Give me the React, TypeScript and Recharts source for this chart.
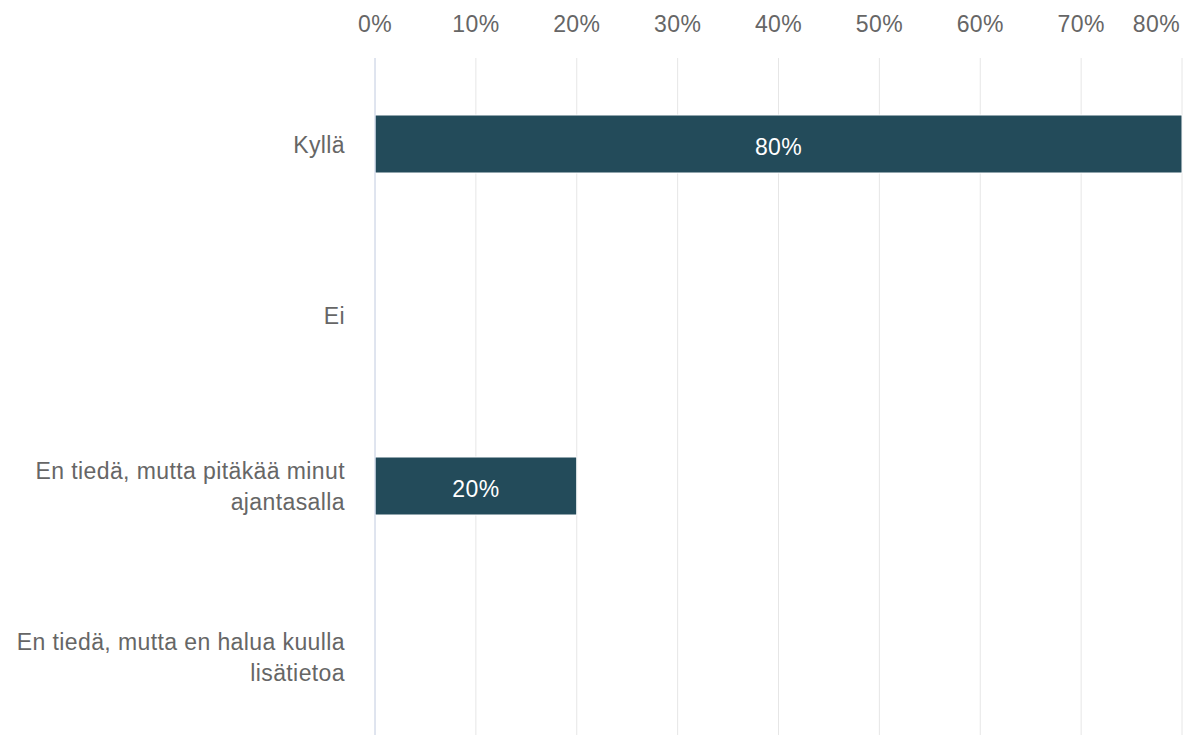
import React from 'react';
import { BarChart, Bar, XAxis, YAxis, CartesianGrid, LabelList } from 'recharts';

const categories = [
  'Kyllä',
  'Ei',
  'En tiedä, mutta pitäkää minut ajantasalla',
  'En tiedä, mutta en halua kuulla lisätietoa',
];
const shares = [80, 0, 20, 0];
const xTicks = [0, 10, 20, 30, 40, 50, 60, 70, 80];

const data = categories.map((category, i) => ({ category, share: shares[i] }));

const FONT = '"Liberation Sans", Arial, Helvetica, sans-serif';
const TEXT_COLOR = '#666666';
const LABEL_FONT_SIZE = 23;
const LETTER_SPACING = 0.4;
const LABEL_MAX_WIDTH = 345;
const LINE_HEIGHT = 31;

let measureCtx: CanvasRenderingContext2D | null = null;
function measure(s: string): number {
  if (!measureCtx) {
    const c = document.createElement('canvas');
    measureCtx = c.getContext('2d');
  }
  if (!measureCtx) return s.length * LABEL_FONT_SIZE * 0.5;
  measureCtx.font = `${LABEL_FONT_SIZE}px ${FONT}`;
  return measureCtx.measureText(s).width + s.length * LETTER_SPACING;
}

function wrap(label: string): string[] {
  const words = label.split(' ');
  const lines: string[] = [];
  let cur = '';
  words.forEach((w) => {
    const next = cur ? `${cur} ${w}` : w;
    if (cur && measure(next) > LABEL_MAX_WIDTH) {
      lines.push(cur);
      cur = w;
    } else {
      cur = next;
    }
  });
  if (cur) lines.push(cur);
  return lines;
}

const XTick = (props: any) => {
  const { x, y, payload, index } = props;
  const last = index === xTicks.length - 1;
  return (
    <text
      x={last ? x - 2 : x}
      y={y}
      textAnchor={last ? 'end' : 'middle'}
      fill={TEXT_COLOR}
      fontSize={LABEL_FONT_SIZE}
      letterSpacing={LETTER_SPACING}
      fontFamily={FONT}
    >
      {`${payload.value}%`}
    </text>
  );
};

const YTick = (props: any) => {
  const { x, y, payload } = props;
  const lines = wrap(String(payload.value));
  const firstBaseline = y + 9 - ((lines.length - 1) * LINE_HEIGHT) / 2;
  return (
    <text
      x={x}
      y={firstBaseline}
      textAnchor="end"
      fill={TEXT_COLOR}
      fontSize={LABEL_FONT_SIZE}
      letterSpacing={LETTER_SPACING}
      fontFamily={FONT}
    >
      {lines.map((l, i) => (
        <tspan key={i} x={x} dy={i === 0 ? 0 : LINE_HEIGHT}>
          {l}
        </tspan>
      ))}
    </text>
  );
};

export default function App() {
  return (
    <div
      style={{
        position: 'fixed',
        left: 0,
        top: 0,
        width: 1184,
        height: 735,
        overflow: 'hidden',
        background: '#ffffff',
      }}
    >
      <BarChart
        layout="vertical"
        width={1184}
        height={742}
        data={data}
        margin={{ top: 0, right: 2, left: 0, bottom: 0 }}
      >
        <CartesianGrid horizontal={false} stroke="#e6e6e6" />
        <XAxis
          type="number"
          orientation="top"
          domain={[0, 80]}
          ticks={xTicks}
          interval={0}
          height={58}
          axisLine={false}
          tickLine={false}
          tickSize={0}
          tickMargin={26}
          tick={<XTick />}
        />
        <YAxis
          type="category"
          dataKey="category"
          width={375}
          interval={0}
          axisLine={{ stroke: '#ccd6eb' }}
          tickLine={false}
          tickSize={0}
          tickMargin={30}
          tick={<YTick />}
        />
        <Bar
          dataKey="share"
          fill="#234b5a"
          stroke="#ffffff"
          strokeWidth={1}
          barSize={58}
          isAnimationActive={false}
        >
          <LabelList
            dataKey="share"
            position="center"
            fill="#ffffff"
            fontSize={LABEL_FONT_SIZE}
            letterSpacing={LETTER_SPACING}
            fontFamily={FONT}
            dy={3}
            formatter={(v: any) => (v ? `${v}%` : '')}
          />
        </Bar>
      </BarChart>
    </div>
  );
}
